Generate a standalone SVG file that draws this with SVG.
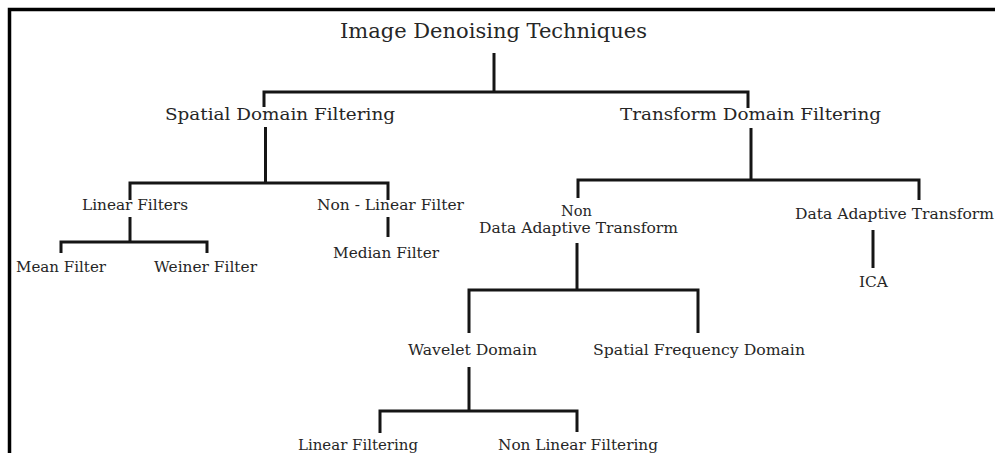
<svg xmlns="http://www.w3.org/2000/svg" width="995" height="453" viewBox="0 0 995 453">
<style>
.t{font-family:"DejaVu Serif","Liberation Serif",serif;fill:#262626}
.l1{font-size:19.5px}
.l2{font-size:17px}
.l3{font-size:14.5px}
.c{fill:none;stroke:#151515;stroke-width:3;stroke-linejoin:miter;stroke-linecap:butt}
</style>
<rect x="0" y="0" width="995" height="453" fill="#fff"/>
<path d="M9.5 453 V9.5 H995" fill="none" stroke="#000" stroke-width="3.5"/>
<g id="connectors">
<path class="c" d="M494 53 V92"/>
<path class="c" d="M264 107 V92 H748 V108"/>
<path class="c" d="M265.5 127 V183"/>
<path class="c" d="M130 200 V183 H388 V200"/>
<path class="c" d="M130 217 V242"/>
<path class="c" d="M61 253 V242 H207 V253"/>
<path class="c" d="M388 217 V237"/>
<path class="c" d="M751 128 V180"/>
<path class="c" d="M578 198 V180 H919 V200"/>
<path class="c" d="M873 230 V268"/>
<path class="c" d="M577 243 V290"/>
<path class="c" d="M469 333 V290 H698 V333"/>
<path class="c" d="M469 367 V411"/>
<path class="c" d="M380 433 V411 H577 V432"/>
</g>
<g id="root"><text class="t l1" x="340" y="38" textLength="307" lengthAdjust="spacingAndGlyphs">Image Denoising Techniques</text></g>
<g id="spatial"><text class="t l2" x="165" y="120" textLength="230" lengthAdjust="spacingAndGlyphs">Spatial Domain Filtering</text></g>
<g id="transform"><text class="t l2" x="620" y="120" textLength="261" lengthAdjust="spacingAndGlyphs">Transform Domain Filtering</text></g>
<g id="linear"><text class="t l3" x="82" y="210" textLength="106" lengthAdjust="spacingAndGlyphs">Linear Filters</text></g>
<g id="nonlinear"><text class="t l3" x="317" y="210" textLength="147" lengthAdjust="spacingAndGlyphs">Non - Linear Filter</text></g>
<g id="mean"><text class="t l3" x="16" y="272" textLength="90" lengthAdjust="spacingAndGlyphs">Mean Filter</text></g>
<g id="weiner"><text class="t l3" x="154" y="272" textLength="103" lengthAdjust="spacingAndGlyphs">Weiner Filter</text></g>
<g id="median"><text class="t l3" x="333" y="258" textLength="106" lengthAdjust="spacingAndGlyphs">Median Filter</text></g>
<g id="nondata"><text class="t l3" x="561" y="216" textLength="31" lengthAdjust="spacingAndGlyphs">Non</text><text class="t l3" x="479" y="233" textLength="199" lengthAdjust="spacingAndGlyphs">Data Adaptive Transform</text></g>
<g id="dataadaptive"><text class="t l3" x="795" y="219" textLength="199" lengthAdjust="spacingAndGlyphs">Data Adaptive Transform</text></g>
<g id="ica"><text class="t l3" x="859" y="287" textLength="29" lengthAdjust="spacingAndGlyphs">ICA</text></g>
<g id="wavelet"><text class="t l3" x="408" y="355" textLength="129" lengthAdjust="spacingAndGlyphs">Wavelet Domain</text></g>
<g id="spatialfreq"><text class="t l3" x="593" y="355" textLength="212" lengthAdjust="spacingAndGlyphs">Spatial Frequency Domain</text></g>
<g id="linfilt"><text class="t l3" x="298" y="450" textLength="120" lengthAdjust="spacingAndGlyphs">Linear Filtering</text></g>
<g id="nonlinfilt"><text class="t l3" x="498" y="450" textLength="160" lengthAdjust="spacingAndGlyphs">Non Linear Filtering</text></g>
</svg>
